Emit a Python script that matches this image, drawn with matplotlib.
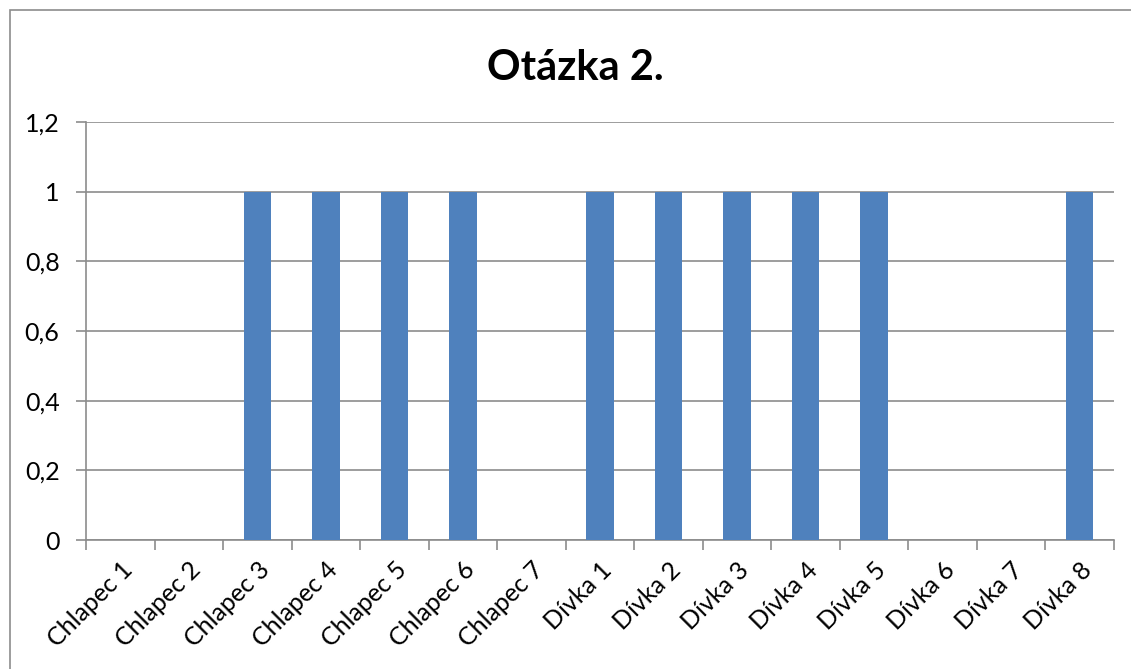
import matplotlib
matplotlib.use("Agg")
import matplotlib.pyplot as plt
from matplotlib.patches import Rectangle

categories = ["Chlapec 1", "Chlapec 2", "Chlapec 3", "Chlapec 4", "Chlapec 5", "Chlapec 6", "Chlapec 7",
              "Dívka 1", "Dívka 2", "Dívka 3", "Dívka 4", "Dívka 5", "Dívka 6", "Dívka 7", "Dívka 8"]
values = [0, 0, 1, 1, 1, 1, 0, 1, 1, 1, 1, 1, 0, 0, 1]
yticks = [0, 0.2, 0.4, 0.6, 0.8, 1.0, 1.2]
ylabels = ["0", "0,2", "0,4", "0,6", "0,8", "1", "1,2"]
title = "Otázka 2."

plt.rcParams['font.family'] = ['Lato', 'DejaVu Sans']
W, H = 1131, 669
fig = plt.figure(figsize=(W / 100, H / 100), dpi=100)
ax = fig.add_axes([86 / W, 1 - 540 / H, (1114 - 86) / W, (540 - 122) / H])

x = list(range(len(categories)))
ax.bar(x, values, width=0.4, color="#4F81BD", zorder=3)
ax.set_xlim(-0.5, len(categories) - 0.5)
ax.set_ylim(0, 1.2)
ax.set_yticks(yticks)
ax.set_yticklabels(ylabels, fontsize=18)
ax.yaxis.grid(True, color="#8C8C8C", linewidth=1.2, zorder=0)
ax.set_xticks([i - 0.5 for i in range(len(categories) + 1)])
ax.set_xticklabels([])
ax.set_xticks(x, minor=True)
ax.set_xticklabels(categories, minor=True, rotation=45, ha="right", va="top",
                   rotation_mode="anchor", fontsize=18)
ax.tick_params(axis="x", which="minor", length=0, pad=13)
ax.tick_params(axis="x", which="major", length=7, color="#8C8C8C", width=1.2)
ax.tick_params(axis="y", length=7, color="#8C8C8C", width=1.2, pad=12)
for s in ["top", "right"]:
    ax.spines[s].set_visible(False)
for s in ["left", "bottom"]:
    ax.spines[s].set_color("#8C8C8C")
    ax.spines[s].set_linewidth(1.2)

fig.text(575 / W, 1 - 68 / H, title, ha="center", va="center", fontsize=30, fontweight="bold")
fig.patches.append(Rectangle((10 / W, -0.1), 1.2, 1 - 10 / H + 0.1, transform=fig.transFigure,
                             fill=False, edgecolor="#8C8C8C", linewidth=1.2))

fig.savefig("out.png", dpi=100)
